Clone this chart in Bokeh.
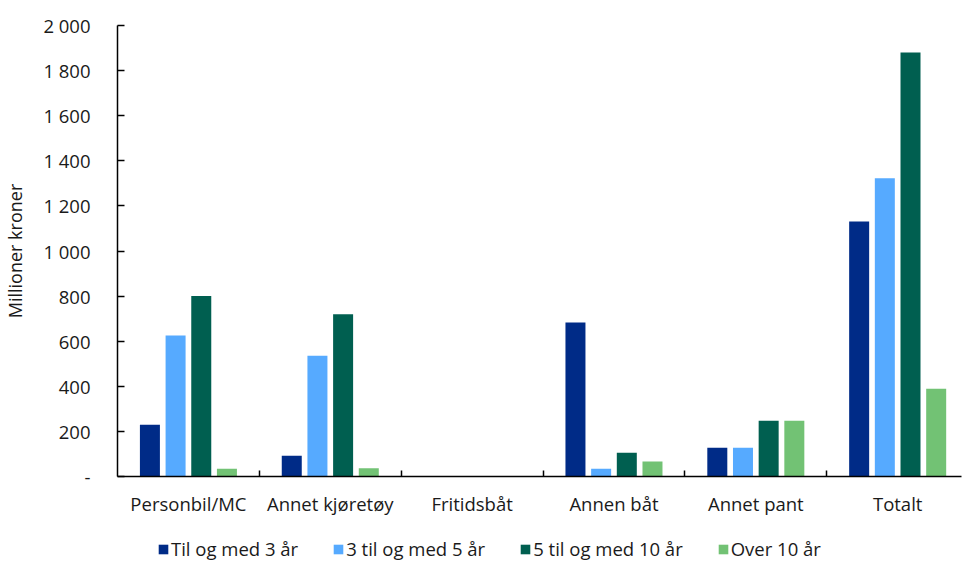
from bokeh.plotting import figure
from bokeh.layouts import column
from bokeh.models import (ColumnDataSource, Range1d, FixedTicker, Legend, LegendItem)
from bokeh.transform import dodge
from bokeh.embed import file_html
from bokeh.resources import INLINE

categories = ["Personbil/MC", "Annet kjøretøy", "Fritidsbåt", "Annen båt", "Annet pant", "Totalt"]
series_names = ["Til og med 3 år", "3 til og med 5 år", "5 til og med 10 år", "Over 10 år"]
til_3 = [230, 92, 0, 683, 128, 1131]
fra_3_til_5 = [625, 535, 0, 34, 128, 1323]
fra_5_til_10 = [800, 720, 0, 105, 247, 1880]
over_10 = [34, 37, 0, 66, 247, 389]
y_ticks = [0, 200, 400, 600, 800, 1000, 1200, 1400, 1600, 1800, 2000]
y_tick_labels = ["-", "200", "400", "600", "800", "1 000", "1 200", "1 400", "1 600", "1 800", "2 000"]

colors = ["#002B87", "#56AAFF", "#005F50", "#72C274"]
FONT = "Open Sans"
TXT = "#1a1a1a"
FS = "18.5px"

centers = [i + 0.5 for i in range(len(categories))]
src = ColumnDataSource(dict(x=centers, s0=til_3, s1=fra_3_til_5, s2=fra_5_til_10, s3=over_10))

p = figure(width=962, height=530, output_backend="svg", toolbar_location=None,
           x_range=Range1d(0, 5.95), y_range=Range1d(0, 2000),
           min_border_top=25, min_border_left=116, min_border_right=1,
           min_border_bottom=54)
p.outline_line_color = None
p.xgrid.visible = False
p.ygrid.visible = False

step = 0.181
offsets = [-1.5 * step, -0.5 * step, 0.5 * step, 1.5 * step]
for k in range(4):
    p.vbar(x=dodge("x", offsets[k], range=p.x_range), top="s%d" % k, width=0.141,
           source=src, fill_color=colors[k], line_color=None)

# x axis: labels at category centers, tick marks at category boundaries (minor ticks)
xa = p.xaxis[0]
xa.ticker = FixedTicker(ticks=centers, minor_ticks=[1, 2, 3, 4, 5])
xa.major_label_overrides = {c: lab for c, lab in zip(centers, categories)}
xa.major_tick_line_color = None
xa.minor_tick_in = 6
xa.minor_tick_out = 0
xa.minor_tick_line_color = "black"
xa.minor_tick_line_width = 1.5
xa.axis_line_color = "black"
xa.axis_line_width = 1.5
xa.major_label_standoff = 8
xa.major_label_text_font = FONT
xa.major_label_text_font_size = FS
xa.major_label_text_color = TXT

ya = p.yaxis[0]
ya.ticker = FixedTicker(ticks=y_ticks)
ya.major_label_overrides = {t: lab for t, lab in zip(y_ticks, y_tick_labels)}
ya.major_tick_in = 7
ya.major_tick_out = 0
ya.major_tick_line_color = "black"
ya.major_tick_line_width = 1.5
ya.minor_tick_line_color = None
ya.axis_line_color = "black"
ya.axis_line_width = 1.5
ya.major_label_standoff = 27
ya.major_label_text_font = FONT
ya.major_label_text_font_size = FS
ya.major_label_text_color = TXT
ya.axis_label = "Millioner kroner"
ya.axis_label_standoff = 13
ya.axis_label_text_font = FONT
ya.axis_label_text_font_size = "18px"
ya.axis_label_text_font_style = "normal"
ya.axis_label_text_color = TXT

# legend strip below the chart (its renderers plot the same data below the visible range)
lg = figure(width=962, height=31, output_backend="svg", toolbar_location=None,
            x_axis_type=None, y_axis_type=None, min_border=0,
            x_range=Range1d(0, 5.95), y_range=Range1d(3000, 4000))
lg.outline_line_color = None
lg.xgrid.visible = False
lg.ygrid.visible = False
items = []
for k in range(4):
    r = lg.vbar(x="x", top="s%d" % k, width=0.141, source=src,
                fill_color=colors[k], line_color=None)
    items.append(LegendItem(label=series_names[k], renderers=[r]))
legend = Legend(items=items, orientation="horizontal", location=(40, 0),
                glyph_width=12, glyph_height=12, label_standoff=2, spacing=34, label_height=20,
                padding=0, margin=0, border_line_color=None, background_fill_alpha=0,
                label_text_font=FONT, label_text_font_size=FS, label_text_color=TXT)
lg.add_layout(legend, "center")

layout = column(p, lg, spacing=0)
open("out.html", "w").write(file_html(layout, INLINE))
